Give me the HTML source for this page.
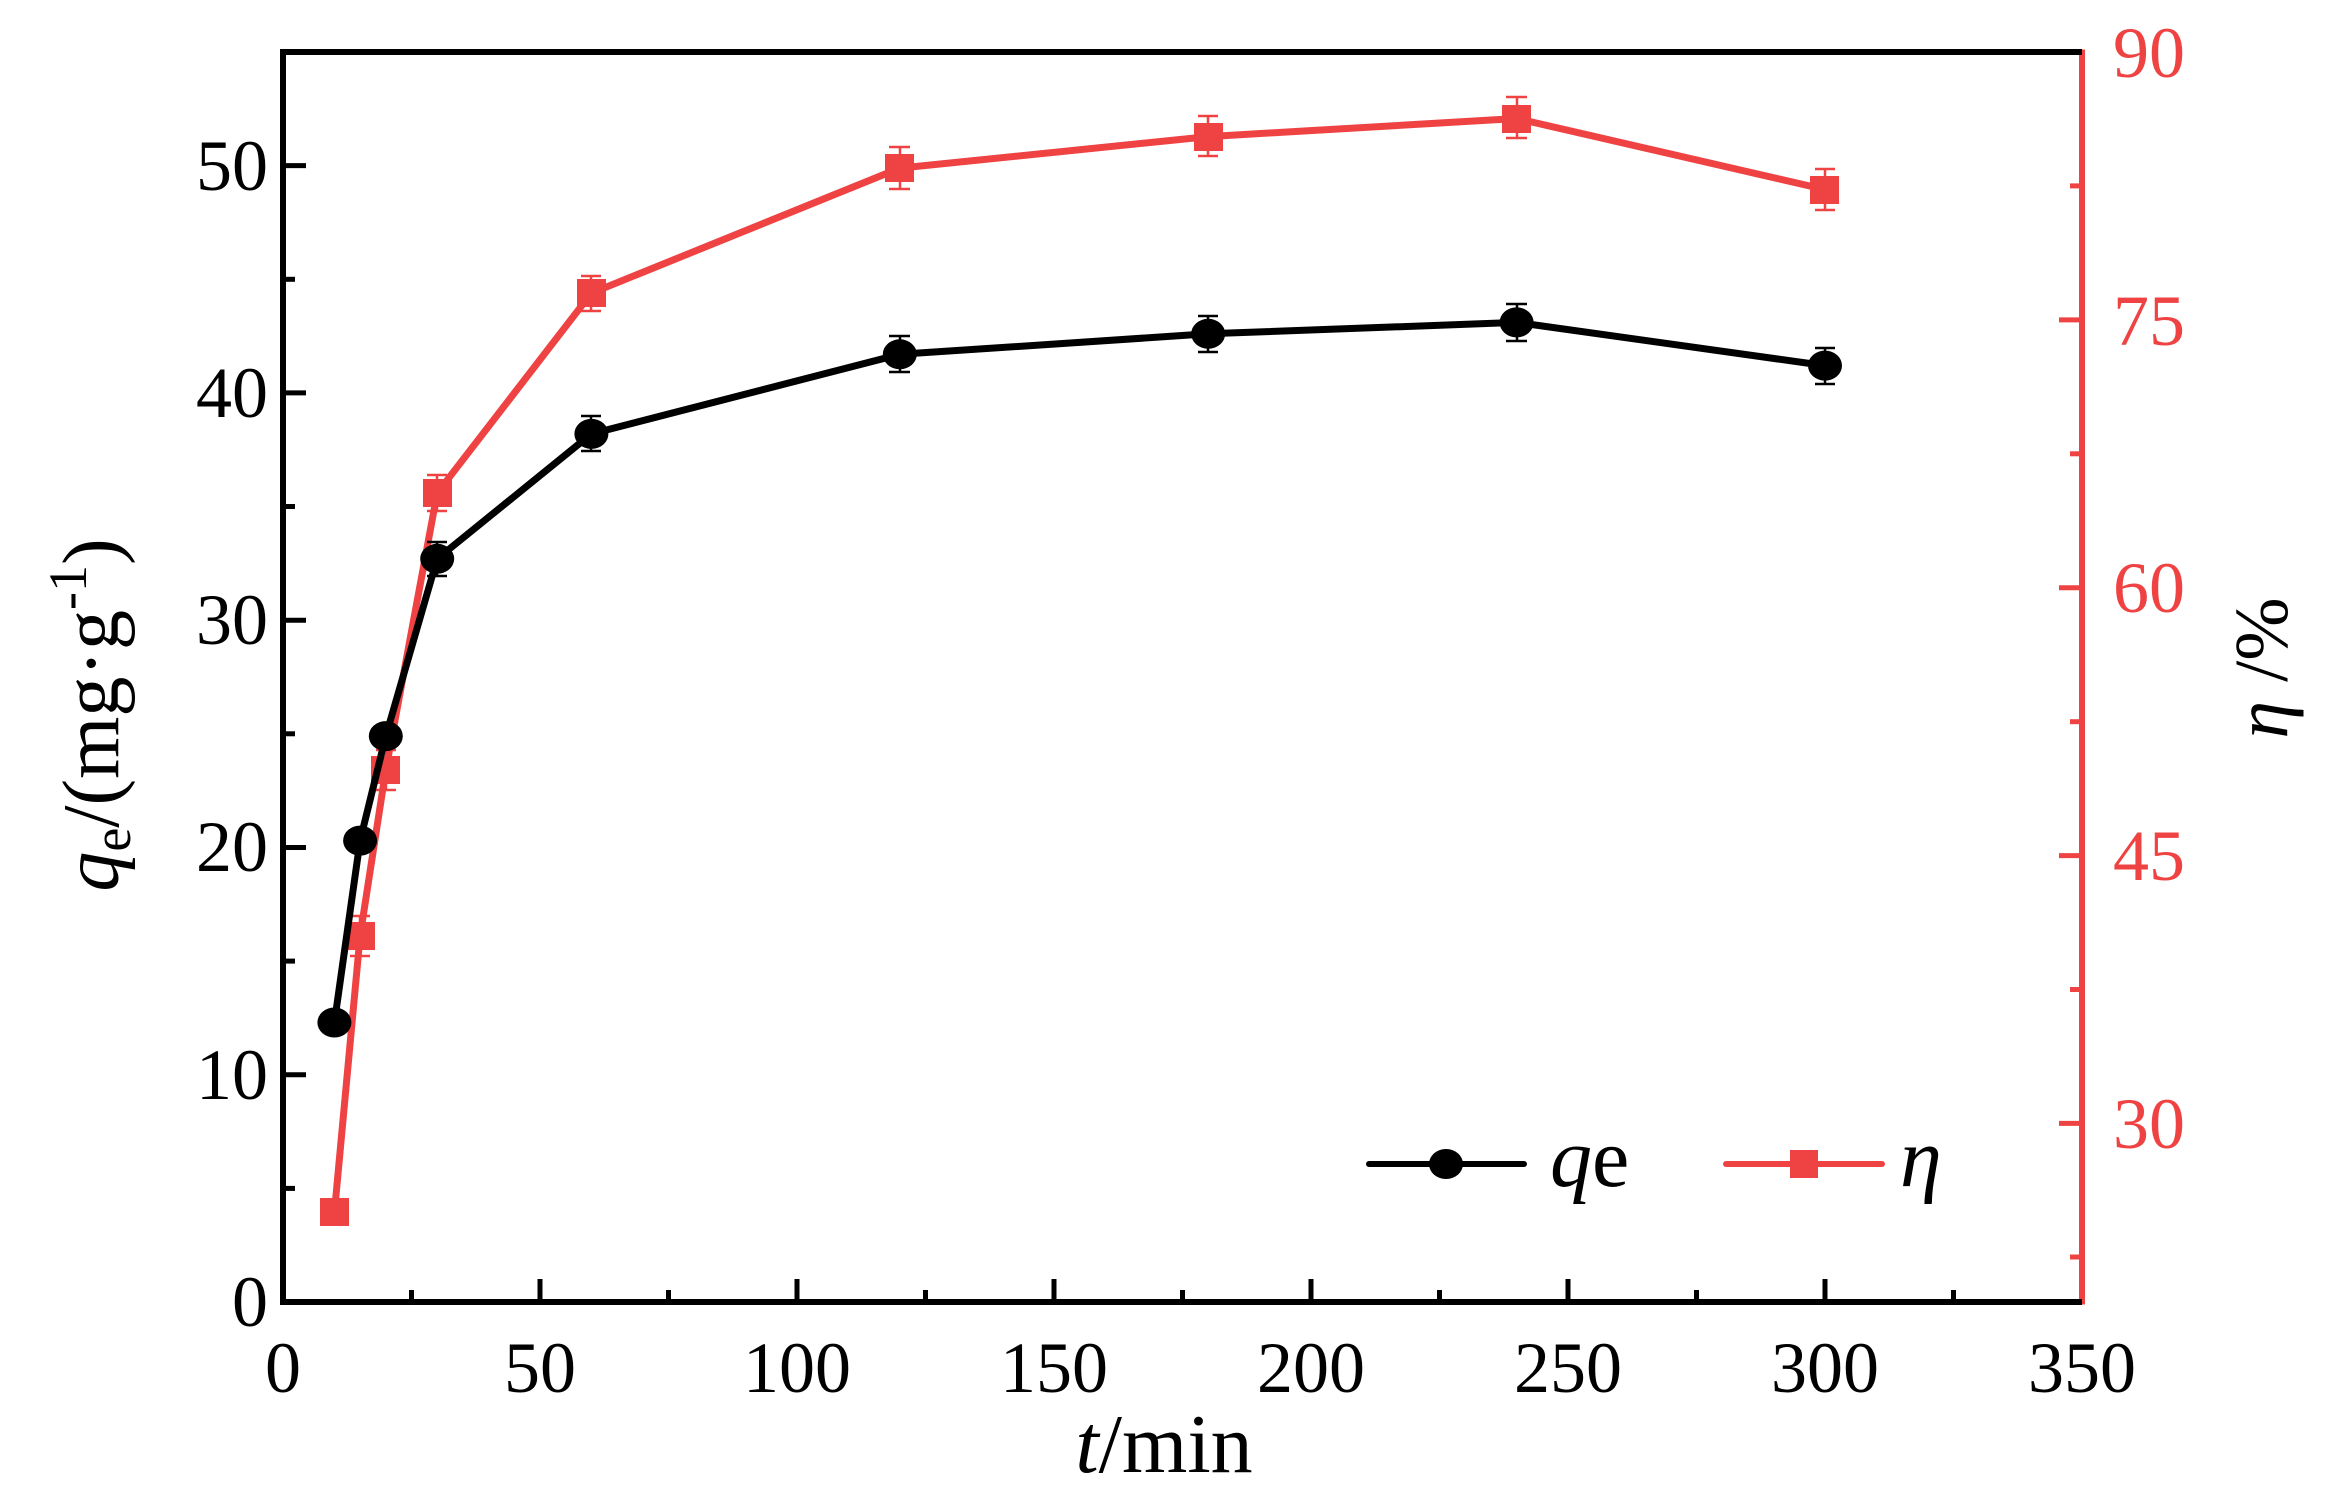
<!DOCTYPE html>
<html><head><meta charset="utf-8"><style>
html,body{margin:0;padding:0;background:#fff}
svg{display:block}
text{font-family:"Liberation Serif",serif}
</style></head><body>
<svg width="2327" height="1509" viewBox="0 0 2327 1509" xmlns="http://www.w3.org/2000/svg">
<rect width="2327" height="1509" fill="#fff"/>
<g stroke="#000" stroke-width="5">
<line x1="283" y1="1302" x2="283" y2="1279"/>
<line x1="411.5" y1="1302" x2="411.5" y2="1290"/>
<line x1="540" y1="1302" x2="540" y2="1279"/>
<line x1="668.5" y1="1302" x2="668.5" y2="1290"/>
<line x1="797" y1="1302" x2="797" y2="1279"/>
<line x1="925.5" y1="1302" x2="925.5" y2="1290"/>
<line x1="1054" y1="1302" x2="1054" y2="1279"/>
<line x1="1182.5" y1="1302" x2="1182.5" y2="1290"/>
<line x1="1311" y1="1302" x2="1311" y2="1279"/>
<line x1="1439.5" y1="1302" x2="1439.5" y2="1290"/>
<line x1="1568" y1="1302" x2="1568" y2="1279"/>
<line x1="1696.5" y1="1302" x2="1696.5" y2="1290"/>
<line x1="1825" y1="1302" x2="1825" y2="1279"/>
<line x1="1953.5" y1="1302" x2="1953.5" y2="1290"/>
<line x1="283" y1="1188.4" x2="295" y2="1188.4"/>
<line x1="283" y1="1074.7" x2="306" y2="1074.7"/>
<line x1="283" y1="961.1" x2="295" y2="961.1"/>
<line x1="283" y1="847.5" x2="306" y2="847.5"/>
<line x1="283" y1="733.8" x2="295" y2="733.8"/>
<line x1="283" y1="620.2" x2="306" y2="620.2"/>
<line x1="283" y1="506.5" x2="295" y2="506.5"/>
<line x1="283" y1="392.9" x2="306" y2="392.9"/>
<line x1="283" y1="279.3" x2="295" y2="279.3"/>
<line x1="283" y1="165.6" x2="306" y2="165.6"/>
</g>
<g stroke="#EF4343" stroke-width="5">
<line x1="2082" y1="1257" x2="2070" y2="1257"/>
<line x1="2082" y1="1123.4" x2="2059" y2="1123.4"/>
<line x1="2082" y1="989.5" x2="2070" y2="989.5"/>
<line x1="2082" y1="855.6" x2="2059" y2="855.6"/>
<line x1="2082" y1="721.7" x2="2070" y2="721.7"/>
<line x1="2082" y1="587.7" x2="2059" y2="587.7"/>
<line x1="2082" y1="453.8" x2="2070" y2="453.8"/>
<line x1="2082" y1="319.9" x2="2059" y2="319.9"/>
<line x1="2082" y1="185.9" x2="2070" y2="185.9"/>
<line x1="2082" y1="52" x2="2059" y2="52"/>
<line x1="2082" y1="49.5" x2="2082" y2="1304.5" stroke-width="6"/>
</g>
<path d="M2082 52 H283 V1302 H2082" fill="none" stroke="#000" stroke-width="6"/>
<g font-size="72" fill="#000" text-anchor="middle">
<text x="283" y="1392">0</text><text x="540" y="1392">50</text><text x="797" y="1392">100</text>
<text x="1054" y="1392">150</text><text x="1311" y="1392">200</text><text x="1568" y="1392">250</text>
<text x="1825" y="1392">300</text><text x="2082" y="1392">350</text>
</g>
<g font-size="72" fill="#000" text-anchor="end">
<text x="268" y="1326">0</text><text x="268" y="1099">10</text><text x="268" y="871">20</text>
<text x="268" y="644">30</text><text x="268" y="417">40</text><text x="268" y="190">50</text>
</g>
<g font-size="72" fill="#EF4343" text-anchor="start">
<text x="2113" y="1148">30</text><text x="2113" y="880">45</text><text x="2113" y="612">60</text>
<text x="2113" y="345">75</text><text x="2113" y="77">90</text>
</g>
<text x="1164" y="1472" font-size="84" text-anchor="middle"><tspan font-style="italic">t</tspan>/min</text>
<text transform="translate(118,715) rotate(-90)" font-size="80" text-anchor="middle"><tspan font-style="italic">q</tspan><tspan font-size="54" dy="12">e</tspan><tspan dy="-12">/(mg·g</tspan><tspan font-size="54" dy="-32">-1</tspan><tspan dy="32">)</tspan></text>
<text transform="translate(2287,668) rotate(-90)" font-size="76" text-anchor="middle"><tspan font-style="italic">η</tspan> /%</text>
<g stroke="#EF4343" fill="#EF4343">
<polyline fill="none" stroke-width="7" stroke-linejoin="round" points="334.4,1212.7 360.1,935.9 385.8,769.8 437.2,493.0 591.4,293.1 899.8,168.1 1208.2,136.6 1516.6,118.5 1825,189.5"/>
<g stroke-width="2.5">
<path d="M360 916V956M350 916H370M350 956H370"/>
<path d="M386 750V790M376 750H396M376 790H396"/>
<path d="M437 475V511M427 475H447M427 511H447"/>
<path d="M591 276V311M581 276H601M581 311H601"/>
<path d="M900 147V189M889 147H910M889 189H910"/>
<path d="M1208 116V156M1198 116H1218M1198 156H1218"/>
<path d="M1517 97V138M1506 97H1527M1506 138H1527"/>
<path d="M1825 169V210M1815 169H1835M1815 210H1835"/>
</g>
<g stroke="none">
<rect x="320" y="1198" width="29" height="28"/>
<rect x="346" y="922" width="29" height="28"/>
<rect x="371" y="756" width="29" height="28"/>
<rect x="423" y="479" width="29" height="28"/>
<rect x="577" y="279" width="29" height="28"/>
<rect x="885" y="154" width="29" height="28"/>
<rect x="1194" y="123" width="29" height="28"/>
<rect x="1502" y="105" width="29" height="28"/>
<rect x="1810" y="176" width="29" height="28"/>
</g>
</g>
<g stroke="#000" fill="#000">
<polyline fill="none" stroke-width="7" stroke-linejoin="round" points="334.4,1022.5 360.1,840.6 385.8,736.1 437.2,558.8 591.4,433.9 899.8,354.3 1208.2,333.8 1516.6,322.4 1825,365.6"/>
<g stroke-width="2.5">
<path d="M437 542V576M427 542H447M427 576H447"/>
<path d="M591 416V451M581 416H601M581 451H601"/>
<path d="M900 336V372M889 336H910M889 372H910"/>
<path d="M1208 316V352M1198 316H1218M1198 352H1218"/>
<path d="M1517 304V341M1506 304H1527M1506 341H1527"/>
<path d="M1825 348V384M1815 348H1835M1815 384H1835"/>
</g>
<g stroke="none">
<ellipse cx="334.4" cy="1022.5" rx="17" ry="15"/>
<ellipse cx="360.1" cy="840.6" rx="17" ry="15"/>
<ellipse cx="385.8" cy="736.1" rx="17" ry="15"/>
<ellipse cx="437.2" cy="558.8" rx="17" ry="15"/>
<ellipse cx="591.4" cy="433.9" rx="17" ry="15"/>
<ellipse cx="899.8" cy="354.3" rx="17" ry="15"/>
<ellipse cx="1208.2" cy="333.8" rx="17" ry="15"/>
<ellipse cx="1516.6" cy="322.4" rx="17" ry="15"/>
<ellipse cx="1825" cy="365.6" rx="17" ry="15"/>
</g>
</g>
<line x1="1369" y1="1164" x2="1524" y2="1164" stroke="#000" stroke-width="6" stroke-linecap="round"/>
<ellipse cx="1446" cy="1164" rx="17" ry="15" fill="#000"/>
<text x="1550" y="1186" font-size="84"><tspan font-style="italic">q</tspan>e</text>
<line x1="1726" y1="1164" x2="1882" y2="1164" stroke="#EF4343" stroke-width="6" stroke-linecap="round"/>
<rect x="1790" y="1150" width="28" height="28" fill="#EF4343"/>
<text x="1900" y="1186" font-size="84" font-style="italic">η</text>
</svg>
</body></html>
